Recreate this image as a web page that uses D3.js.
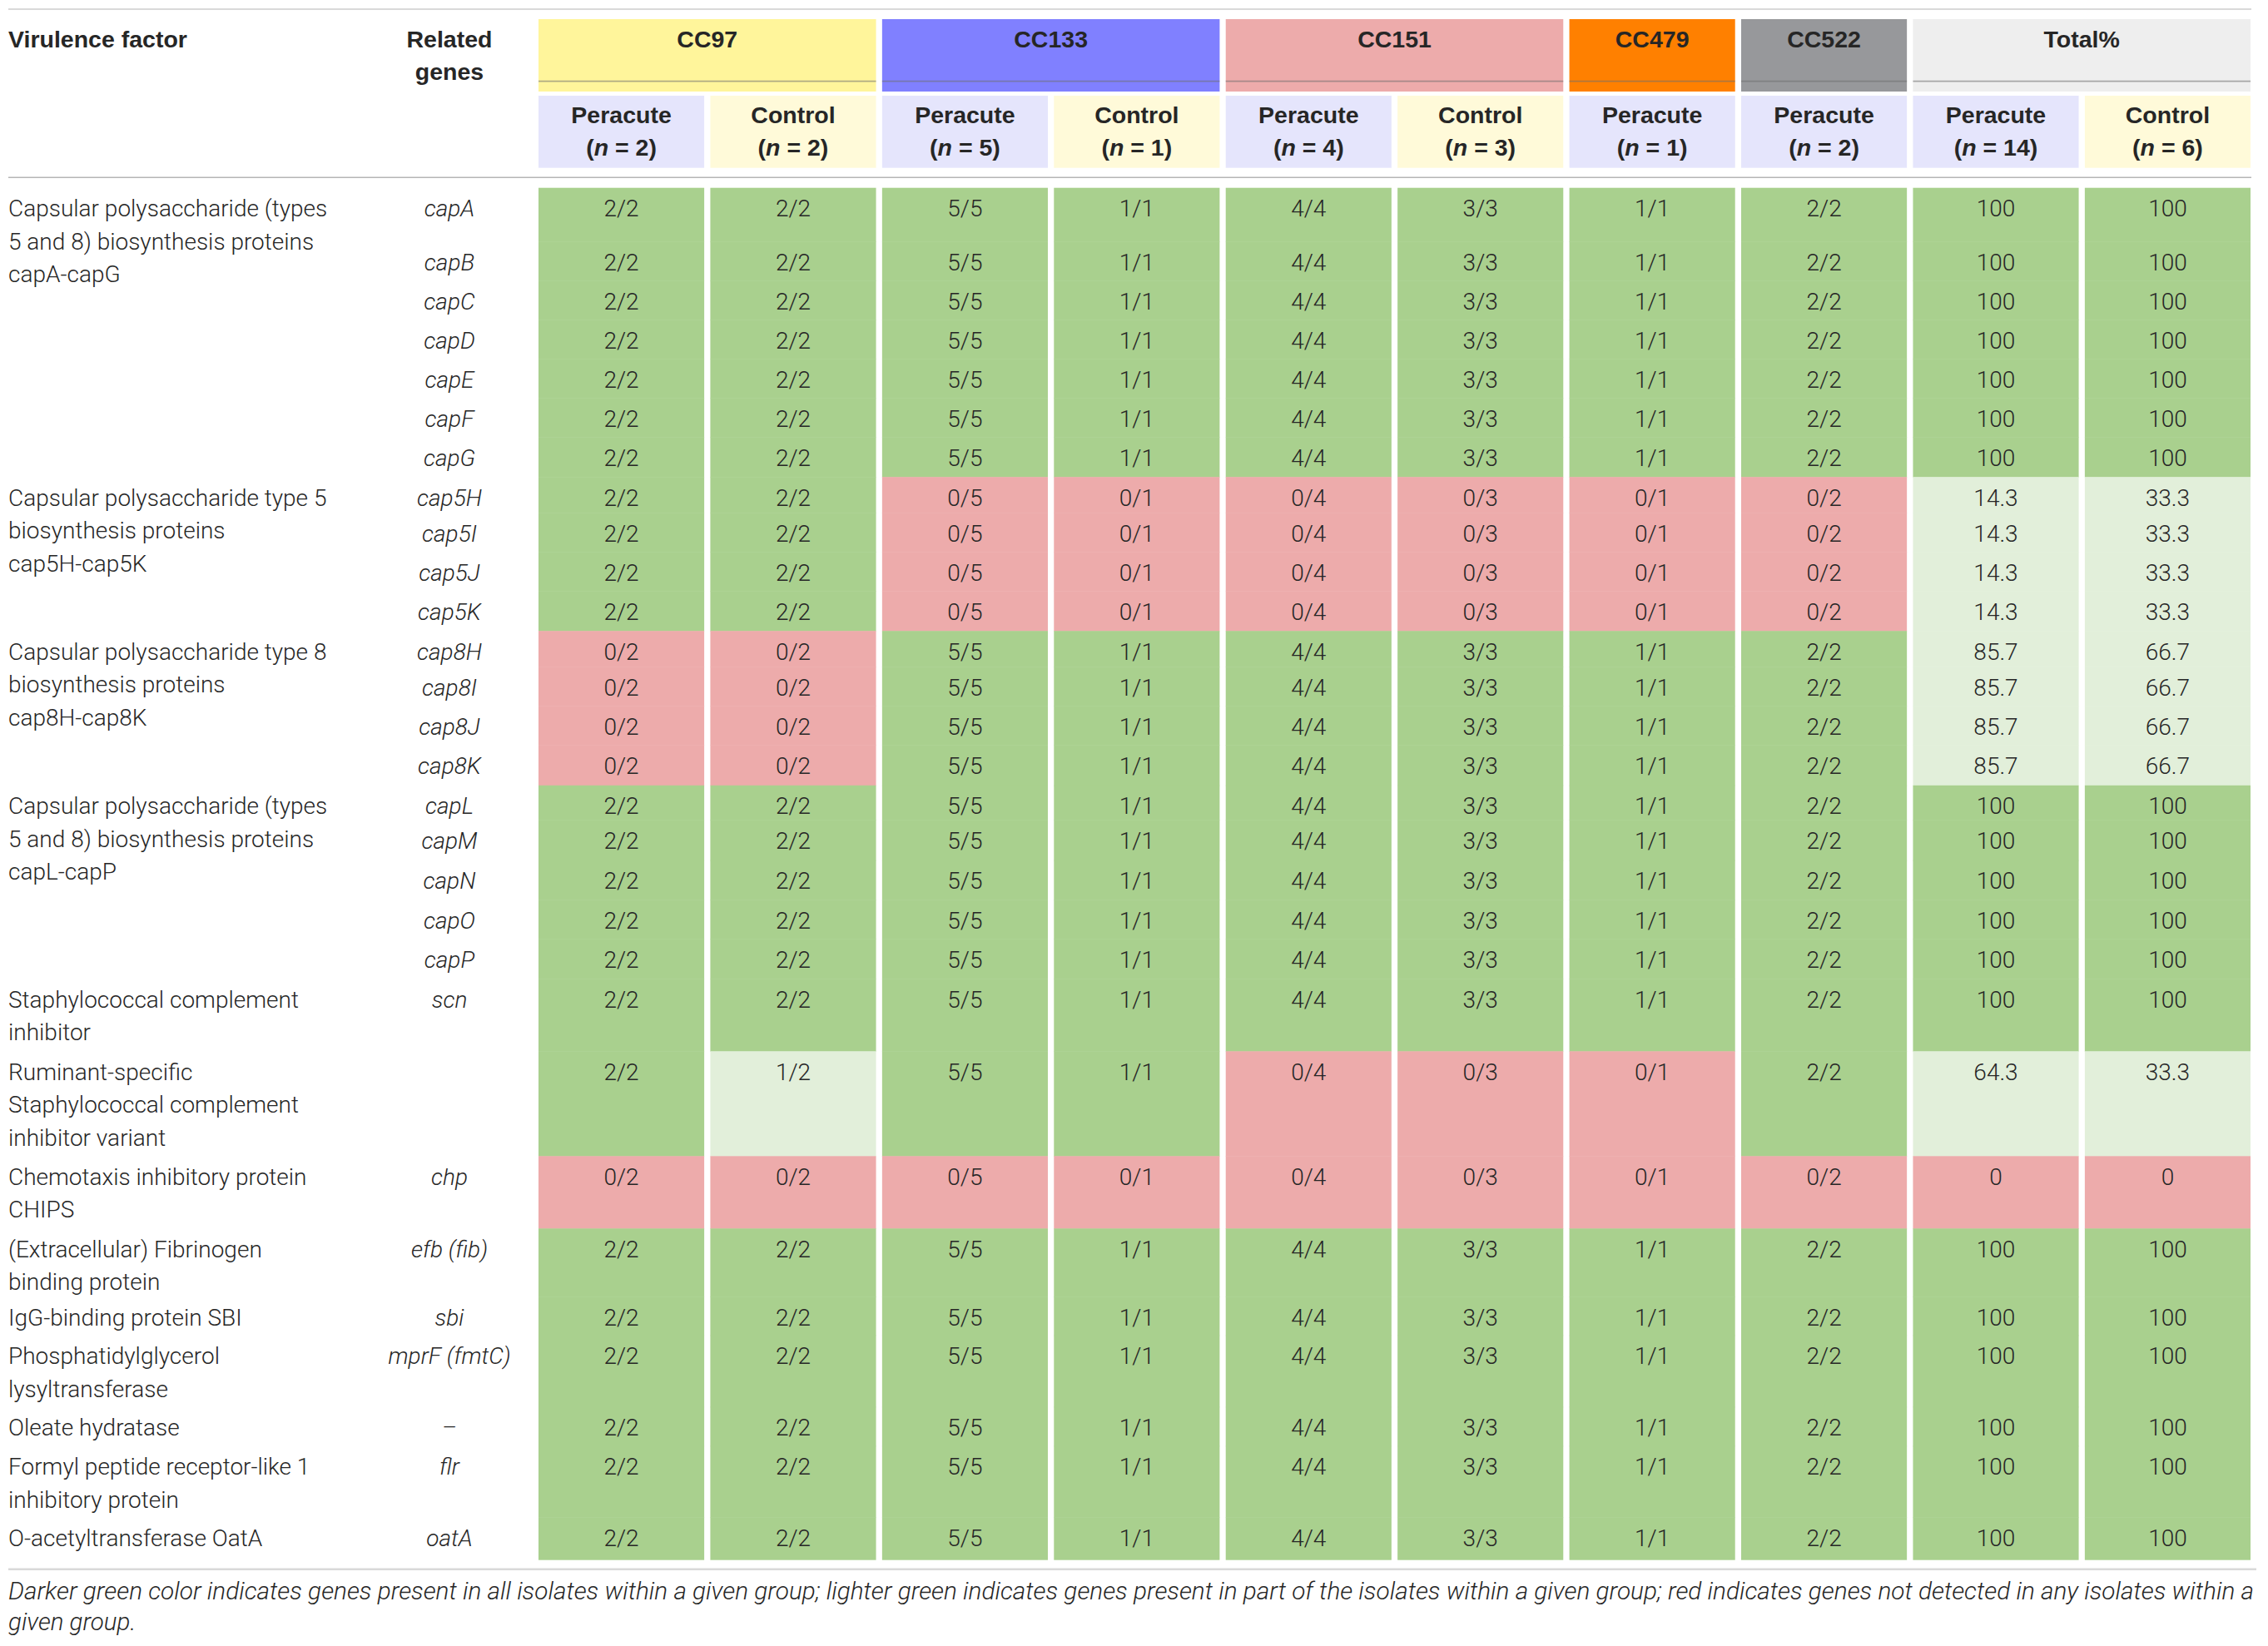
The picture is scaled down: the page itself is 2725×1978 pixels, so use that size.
<!DOCTYPE html>
<html>
<head>
<meta charset="utf-8">
<script src="https://cdn.jsdelivr.net/npm/d3@7"></script>
<style>
  body { margin: 0; background: #ffffff; }
</style>
</head>
<body>
<script>

const columnGroup  = ["CC97", "CC97", "CC133", "CC133", "CC151", "CC151", "CC479", "CC522", "Total%", "Total%"];
const columnStatus = ["Peracute", "Control", "Peracute", "Control", "Peracute", "Control", "Peracute", "Peracute", "Peracute", "Control"];
const columnN      = [2, 2, 5, 1, 4, 3, 1, 2, 14, 6];

const groups = ["CC97", "CC133", "CC151", "CC479", "CC522", "Total%"];

const genes = ["capA", "capB", "capC", "capD", "capE", "capF", "capG",
               "cap5H", "cap5I", "cap5J", "cap5K",
               "cap8H", "cap8I", "cap8J", "cap8K",
               "capL", "capM", "capN", "capO", "capP",
               "scn", "", "chp", "efb (fib)", "sbi", "mprF (fmtC)", "\u2013", "flr", "oatA"];

const factors = [
  ["Capsular polysaccharide (types", "5 and 8) biosynthesis proteins", "capA-capG"],
  ["Capsular polysaccharide type 5", "biosynthesis proteins", "cap5H-cap5K"],
  ["Capsular polysaccharide type 8", "biosynthesis proteins", "cap8H-cap8K"],
  ["Capsular polysaccharide (types", "5 and 8) biosynthesis proteins", "capL-capP"],
  ["Staphylococcal complement", "inhibitor"],
  ["Ruminant-specific", "Staphylococcal complement", "inhibitor variant"],
  ["Chemotaxis inhibitory protein", "CHIPS"],
  ["(Extracellular) Fibrinogen", "binding protein"],
  ["IgG-binding protein SBI"],
  ["Phosphatidylglycerol", "lysyltransferase"],
  ["Oleate hydratase"],
  ["Formyl peptide receptor-like 1", "inhibitory protein"],
  ["O-acetyltransferase OatA"]
];
const factorGeneCount = [7, 4, 4, 5, 1, 1, 1, 1, 1, 1, 1, 1, 1];

// positive isolates per CC column (first 8 columns)
const positives = [
  [2, 2, 5, 1, 4, 3, 1, 2],
  [2, 2, 5, 1, 4, 3, 1, 2],
  [2, 2, 5, 1, 4, 3, 1, 2],
  [2, 2, 5, 1, 4, 3, 1, 2],
  [2, 2, 5, 1, 4, 3, 1, 2],
  [2, 2, 5, 1, 4, 3, 1, 2],
  [2, 2, 5, 1, 4, 3, 1, 2],
  [2, 2, 0, 0, 0, 0, 0, 0],
  [2, 2, 0, 0, 0, 0, 0, 0],
  [2, 2, 0, 0, 0, 0, 0, 0],
  [2, 2, 0, 0, 0, 0, 0, 0],
  [0, 0, 5, 1, 4, 3, 1, 2],
  [0, 0, 5, 1, 4, 3, 1, 2],
  [0, 0, 5, 1, 4, 3, 1, 2],
  [0, 0, 5, 1, 4, 3, 1, 2],
  [2, 2, 5, 1, 4, 3, 1, 2],
  [2, 2, 5, 1, 4, 3, 1, 2],
  [2, 2, 5, 1, 4, 3, 1, 2],
  [2, 2, 5, 1, 4, 3, 1, 2],
  [2, 2, 5, 1, 4, 3, 1, 2],
  [2, 2, 5, 1, 4, 3, 1, 2],
  [2, 1, 5, 1, 0, 0, 0, 2],
  [0, 0, 0, 0, 0, 0, 0, 0],
  [2, 2, 5, 1, 4, 3, 1, 2],
  [2, 2, 5, 1, 4, 3, 1, 2],
  [2, 2, 5, 1, 4, 3, 1, 2],
  [2, 2, 5, 1, 4, 3, 1, 2],
  [2, 2, 5, 1, 4, 3, 1, 2],
  [2, 2, 5, 1, 4, 3, 1, 2]
];

const totalPeracute = [100, 100, 100, 100, 100, 100, 100, 14.3, 14.3, 14.3, 14.3, 85.7, 85.7, 85.7, 85.7,
                       100, 100, 100, 100, 100, 100, 64.3, 0, 100, 100, 100, 100, 100, 100];
const totalControl  = [100, 100, 100, 100, 100, 100, 100, 33.3, 33.3, 33.3, 33.3, 66.7, 66.7, 66.7, 66.7,
                       100, 100, 100, 100, 100, 100, 33.3, 0, 100, 100, 100, 100, 100, 100];

const footnote = ["Darker green color indicates genes present in all isolates within a given group; lighter green indicates genes present in part of the isolates within a given group; red indicates genes not detected in any isolates within a",
                  "given group."];

// ---- layout and styles ----
const WIDTH = 2725, HEIGHT = 1978;
const LEFT = 10, RIGHT = 2705;
const GENE_X = 540;
const BODY_TOP = 225.7;
const ROW_HEIGHTS = [64.5, 47, 47, 47, 47, 47, 48, 43, 47, 47, 48, 43, 47, 47, 48.6,
                     41.5, 48.5, 47.5, 47, 48, 87, 126, 87, 82, 46.4, 86, 47, 85.5, 51];
const LINE_H = 39.5;
const FOOT_WIDTH = 2698;

const GROUP_COLORS = { "CC97": "#fff59b", "CC133": "#8080ff", "CC151": "#edabab", "CC479": "#ff8000", "CC522": "#97989b", "Total%": "#eeeeee" };
const STATUS_COLORS = { "Peracute": "#e5e5fc", "Control": "#fffad9" };
const FULL_COLOR = "#a9d08e", PART_COLOR = "#e2efda", NONE_COLOR = "#edabab";

const FONT = "'Liberation Sans', Arial, Helvetica, sans-serif";
const BODY_FONT = "Roboto, 'Liberation Sans', Arial, sans-serif";
const TEXT_COLOR = "#262626";

var svg, xScale, yScale;


function cellColor(frac)
{
  if (frac >= 1) return FULL_COLOR;
  if (frac <= 0) return NONE_COLOR;
  return PART_COLOR;
}


function buildRows()
{
  var rows = genes.map(function(g, i)
  {
    var cells = positives[i].map(function(p, j)
    {
      return { col: j, text: p + "/" + columnN[j], frac: p / columnN[j] };
    });
    cells.push({ col: 8, text: String(totalPeracute[i]), frac: totalPeracute[i] / 100 });
    cells.push({ col: 9, text: String(totalControl[i]), frac: totalControl[i] / 100 });
    return { index: i, gene: g, cells: cells };
  });
  return rows;
}


function setupScales()
{
  xScale = d3.scaleBand()
             .domain(d3.range(columnGroup.length))
             .range([647, 2704])
             .paddingInner(0.0354);

  var tops = [BODY_TOP];
  var cum = d3.cumsum(ROW_HEIGHTS);
  for (var i = 0; i < cum.length - 1; i++) tops.push(BODY_TOP + cum[i]);

  yScale = d3.scaleOrdinal()
             .domain(d3.range(genes.length))
             .range(tops);
}


function setupHeader()
{
  var header = svg.append("g").attr("id", "header");

  // top rule
  header.append("line")
        .attr("x1", LEFT).attr("x2", RIGHT)
        .attr("y1", 11).attr("y2", 11)
        .style("stroke", "#d9d9d9")
        .style("stroke-width", 2.2);

  header.append("text")
        .attr("x", LEFT).attr("y", 56.7)
        .style("font-family", FONT).style("font-weight", "bold").style("font-size", "28.5px")
        .style("fill", TEXT_COLOR)
        .text("Virulence factor");

  var rel = header.append("text")
        .attr("text-anchor", "middle")
        .style("font-family", FONT).style("font-weight", "bold").style("font-size", "28.5px")
        .style("fill", TEXT_COLOR);
  rel.append("tspan").attr("x", GENE_X).attr("y", 56.7).text("Related");
  rel.append("tspan").attr("x", GENE_X).attr("y", 95.7).text("genes");

  // group boxes (CC97, CC133 ...)
  var groupSpans = groups.map(function(g)
  {
    var idx = d3.range(columnGroup.length).filter(function(j) { return columnGroup[j] == g; });
    var x0 = xScale(idx[0]);
    var x1 = xScale(idx[idx.length - 1]) + xScale.bandwidth();
    return { name: g, x0: x0, x1: x1 };
  });

  var gbox = header.selectAll(".group_box")
        .data(groupSpans)
        .enter().append("g")
        .attr("class", "group_box");

  gbox.append("rect")
      .attr("x", function(d) { return d.x0; })
      .attr("y", 23)
      .attr("width", function(d) { return d.x1 - d.x0; })
      .attr("height", 87)
      .style("fill", function(d) { return GROUP_COLORS[d.name]; });

  gbox.append("line")
      .attr("x1", function(d) { return d.x0; })
      .attr("x2", function(d) { return d.x1; })
      .attr("y1", 97.7).attr("y2", 97.7)
      .style("stroke", "#6e6e6e")
      .style("stroke-opacity", 0.55)
      .style("stroke-width", 1.8);

  gbox.append("text")
      .attr("x", function(d) { return (d.x0 + d.x1) / 2; })
      .attr("y", 56.7)
      .attr("text-anchor", "middle")
      .style("font-family", FONT).style("font-weight", "bold").style("font-size", "28.5px")
      .style("fill", TEXT_COLOR)
      .text(function(d) { return d.name; });

  // sub header boxes
  var sub = header.selectAll(".sub_box")
        .data(d3.range(columnGroup.length))
        .enter().append("g")
        .attr("class", "sub_box");

  sub.append("rect")
     .attr("x", function(j) { return xScale(j); })
     .attr("y", 115)
     .attr("width", xScale.bandwidth())
     .attr("height", 86.7)
     .style("fill", function(j) { return STATUS_COLORS[columnStatus[j]]; });

  var st = sub.append("text")
     .attr("text-anchor", "middle")
     .style("font-family", FONT).style("font-weight", "bold").style("font-size", "28.5px")
     .style("fill", TEXT_COLOR);
  st.append("tspan")
    .attr("x", function(j) { return xScale(j) + xScale.bandwidth() / 2; })
    .attr("y", 148)
    .text(function(j) { return columnStatus[j]; });
  var nline = st.append("tspan")
    .attr("x", function(j) { return xScale(j) + xScale.bandwidth() / 2; })
    .attr("y", 187);
  nline.append("tspan").text("(");
  nline.append("tspan").style("font-style", "italic").text("n");
  nline.append("tspan").text(function(j) { return " = " + columnN[j] + ")"; });

  // rule under header
  header.append("line")
        .attr("x1", LEFT).attr("x2", RIGHT)
        .attr("y1", 213.3).attr("y2", 213.3)
        .style("stroke", "#b5b5b5")
        .style("stroke-width", 1.6);
}


function setupBody()
{
  var body = svg.append("g").attr("id", "body");
  var rows = buildRows();

  var row = body.selectAll(".data_row")
        .data(rows)
        .enter().append("g")
        .attr("class", "data_row");

  row.selectAll(".data_cell")
     .data(function(d) { return d.cells.map(function(c) { return { row: d.index, c: c }; }); })
     .enter().append("rect")
     .attr("class", "data_cell")
     .attr("x", function(d) { return xScale(d.c.col); })
     .attr("y", function(d) { return yScale(d.row); })
     .attr("width", xScale.bandwidth())
     .attr("height", function(d) { return ROW_HEIGHTS[d.row] + 0.5; })
     .style("fill", function(d) { return cellColor(d.c.frac); });

  row.selectAll(".data_text")
     .data(function(d) { return d.cells.map(function(c) { return { row: d.index, c: c }; }); })
     .enter().append("text")
     .attr("class", "data_text")
     .attr("x", function(d) { return xScale(d.c.col) + xScale.bandwidth() / 2; })
     .attr("y", function(d) { return yScale(d.row) + 34.5; })
     .attr("text-anchor", "middle")
     .style("font-family", BODY_FONT).style("font-weight", 300).style("font-size", "28px")
     .style("fill", TEXT_COLOR)
     .text(function(d) { return d.c.text; });

  row.append("text")
     .attr("class", "gene_text")
     .attr("x", GENE_X)
     .attr("y", function(d) { return yScale(d.index) + 34.5; })
     .attr("text-anchor", "middle")
     .style("font-family", BODY_FONT).style("font-weight", 300).style("font-size", "28px")
     .style("font-style", "italic")
     .style("fill", TEXT_COLOR)
     .text(function(d) { return d.gene; });

  // virulence factor labels, placed at the first row of each block
  var starts = [0];
  var cum = d3.cumsum(factorGeneCount);
  for (var i = 0; i < cum.length - 1; i++) starts.push(cum[i]);

  var fac = body.selectAll(".factor_text")
        .data(factors)
        .enter().append("text")
        .attr("class", "factor_text")
        .style("font-family", BODY_FONT).style("font-weight", 300).style("font-size", "28px")
        .style("fill", TEXT_COLOR);

  fac.each(function(lines, k)
  {
    var top = yScale(starts[k]);
    d3.select(this).selectAll("tspan")
      .data(lines)
      .enter().append("tspan")
      .attr("x", LEFT)
      .attr("y", function(l, m) { return top + 34.5 + m * LINE_H; })
      .text(function(l) { return l; });
  });
}


function setupFooter()
{
  var footer = svg.append("g").attr("id", "footer");

  footer.append("line")
        .attr("x1", LEFT).attr("x2", 2711)
        .attr("y1", 1885.7).attr("y2", 1885.7)
        .style("stroke", "#d9d9d9")
        .style("stroke-width", 2.4);

  var foot = footer.selectAll(".foot_text")
        .data(footnote)
        .enter().append("text")
        .attr("class", "foot_text")
        .attr("x", LEFT)
        .attr("y", function(d, i) { return 1921.5 + i * 37; })
        .style("font-family", BODY_FONT).style("font-weight", 300).style("font-size", "29.5px")
        .style("font-style", "italic")
        .style("fill", TEXT_COLOR)
        .text(function(d) { return d; });

  // first line runs the full width in the original
  foot.filter(function(d, i) { return i == 0; })
      .attr("textLength", FOOT_WIDTH)
      .attr("lengthAdjust", "spacingAndGlyphs");
}


function initializeMainEnvironment()
{
  svg = d3.select("body").append("svg")
          .attr("width", WIDTH)
          .attr("height", HEIGHT)
          .style("display", "block");

  svg.append("rect")
     .attr("width", WIDTH).attr("height", HEIGHT)
     .style("fill", "#ffffff");

  setupScales();
  setupHeader();
  setupBody();
  setupFooter();
}

initializeMainEnvironment();

</script>
</body>
</html>
